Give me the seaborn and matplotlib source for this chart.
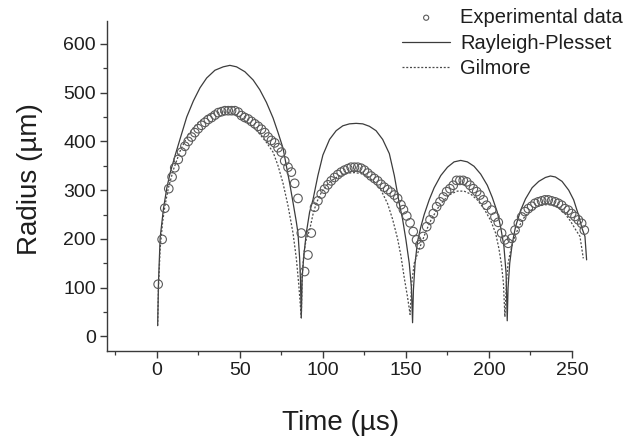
import matplotlib
matplotlib.use("Agg")
import matplotlib.pyplot as plt
import seaborn as sns
from matplotlib.ticker import MultipleLocator

# ---------------- data ----------------
exp_time = [0.8, 3.2, 4.8, 7.2, 9.2, 10.8, 12.9, 14.9, 16.9, 18.9, 20.9, 22.9, 24.9, 26.9,
            29, 31, 33, 35, 37, 39, 41, 43, 45, 47, 49, 51, 53, 55, 57, 59, 61, 63, 65, 67,
            69, 71, 73, 75, 77, 79, 81, 83, 85, 87, 89, 91, 93,
            95, 97, 99, 101, 103, 105, 107, 109, 111, 113, 115, 117, 119, 121, 123, 125,
            127, 129, 131, 133, 135, 137, 139, 141, 143, 145, 147, 148.5, 150.5, 152.5,
            154.4, 156.4, 158.4,
            160.4, 162.5, 164.5, 166.5, 168.5, 170.5, 172.5, 174.5, 176.5, 178.5, 180.5,
            182.5, 184.5, 186.6, 188.6, 190.6, 192.6, 194.6, 196.6, 198.6, 201.6, 203.6,
            205.6, 207.6, 209.6, 211.6,
            213.7, 215.7, 217.7, 219.7, 221.7, 223.7, 225.7, 227.7, 229.7, 231.7, 233.7,
            235.7, 237.7, 239.8, 241.8, 243.8, 245.8, 247.8, 249.8, 251.8, 253.8, 255.8, 257.4]
exp_radius = [107, 199, 263, 303, 327, 346, 363, 378, 390, 400, 409, 418, 426, 433,
              439, 445, 449, 454, 459, 461, 463, 463, 463, 463, 460, 453, 449, 446, 441, 436,
              431, 425, 418, 409, 402, 397, 387, 378, 360, 347, 337, 314, 283, 212, 133, 167, 212,
              265, 278, 292, 302, 311, 319, 326, 332, 337, 341, 344, 347, 347, 347, 345, 341,
              335, 329, 324, 319, 312, 306, 301, 296, 290, 283, 270, 260, 247, 233,
              215, 198, 188,
              205, 225, 239, 252, 266, 276, 286, 297, 303, 310, 320,
              320, 320, 317, 310, 303, 297, 290, 280, 269, 259, 245,
              234, 212, 198, 191,
              201, 218, 232, 245, 256, 262, 267, 273, 276, 278, 280,
              280, 278, 276, 273, 269, 262, 259, 252, 246, 239, 232, 218]

rp_time = [0.5, 1, 2, 4, 6, 8, 11, 14, 18, 22, 26, 30, 35, 40, 44, 48, 53, 58, 62, 66, 70,
           73, 76, 78, 80, 82, 84, 85, 86, 86.5, 87,
           87.5, 88.5, 90, 92, 94, 97, 100, 104, 108, 112, 116, 120, 124, 128, 132, 136,
           140, 143, 146, 148, 150, 152, 153.3, 154,
           154.5, 155.5, 157, 159, 161, 164, 167, 171, 175, 179, 183, 187, 191, 195, 199,
           202, 205, 207, 209, 210.3, 211,
           211.5, 212.5, 214, 216, 219, 222, 226, 230, 234, 237, 240, 244, 248, 251, 254,
           256, 257.8, 258.8]
rp_radius = [22, 110, 202, 262, 304, 335, 371, 405, 450, 483, 510, 530, 546, 553, 556, 553,
             543, 526, 506, 480, 448, 418, 386, 350, 314, 275, 235, 212, 160, 115, 38,
             120, 165, 212, 255, 280, 330, 372, 404, 422, 432, 436, 437, 436, 431, 422, 404,
             375, 330, 273, 240, 198, 150, 100, 28,
             95, 150, 195, 225, 250, 280, 305, 330, 347, 358, 361, 358, 349, 333, 310,
             285, 255, 225, 185, 130, 32,
             100, 150, 190, 225, 258, 282, 305, 318, 326, 329, 327, 318, 300, 280, 248,
             222, 205, 157]

gil_time = [0.5, 1, 2, 3.5, 5, 7, 10, 14, 18, 22, 26, 30, 34, 38, 42, 46, 50, 54, 58, 62, 66,
            70, 73, 76, 79, 82, 84, 85.5, 86.5, 87,
            87.5, 88.5, 90, 92, 94, 96, 99, 103, 107, 111, 115, 119, 123, 127, 131, 135, 139,
            142, 145, 147, 149, 151, 152.5,
            153.5, 155, 157, 159, 162, 165, 169, 173, 177, 181, 185, 189, 193, 197, 201, 204,
            206, 207.5, 208.7, 209.6,
            210.5, 211.5, 213, 215, 218, 221, 225, 229, 233, 237, 241, 245, 249, 252, 254.8,
            256.8]
gil_radius = [22, 100, 180, 235, 270, 305, 342, 380, 408, 428, 442, 452, 458, 460, 460, 456,
              450, 440, 430, 415, 398, 378, 350, 314, 268, 212, 160, 105, 60, 38,
              120, 170, 200, 218, 250, 273, 295, 313, 324, 331, 335, 336, 334, 328, 317, 300,
              272, 240, 200, 165, 120, 80, 45,
              110, 150, 170, 188, 215, 238, 262, 280, 292, 298, 298, 292, 280, 262, 238, 212,
              180, 148, 110, 40,
              110, 150, 175, 200, 225, 243, 258, 266, 270, 270, 266, 255, 237, 220, 205, 160]

x_ticks = [0, 50, 100, 150, 200, 250]
y_ticks = [0, 100, 200, 300, 400, 500, 600]

# ---------------- figure ----------------
sns.set_style("ticks")
plt.rcParams['font.family'] = ['Liberation Sans', 'DejaVu Sans']
plt.rcParams['mathtext.fontset'] = 'dejavusans'

fig = plt.figure(figsize=(6.38, 4.38), dpi=100)
ax = fig.add_axes([107 / 638, 87 / 438, 465 / 638, 330 / 438])

text_c = "#1e1e1e"
axis_c = "#3a3a3a"

sns.scatterplot(x=exp_time, y=exp_radius, ax=ax, marker='o', s=38,
                facecolor='none', edgecolor='#5a5a5a', linewidth=0.8,
                label='Experimental data', clip_on=False, zorder=3)
sns.lineplot(x=rp_time, y=rp_radius, ax=ax, sort=False, estimator=None,
             color='#3c3c3c', linewidth=0.9, label='Rayleigh-Plesset', clip_on=False)
sns.lineplot(x=gil_time, y=gil_radius, ax=ax, sort=False, estimator=None,
             color='#4a4a4a', linewidth=0.9, linestyle=(0, (1.6, 1.4)),
             label='Gilmore', clip_on=False)

ax.set_xlim(-30, 250)
ax.set_ylim(-30, 647)
ax.set_xticks(x_ticks)
ax.set_yticks(y_ticks)
ax.xaxis.set_minor_locator(MultipleLocator(25))
ax.yaxis.set_minor_locator(MultipleLocator(50))

sns.despine(ax=ax)
for sp in ('left', 'bottom'):
    ax.spines[sp].set_color(axis_c)
    ax.spines[sp].set_linewidth(1.0)

ax.tick_params(which='major', direction='out', length=5, width=1.0, color=axis_c,
               labelsize=14, labelcolor=text_c, pad=3)
ax.tick_params(which='minor', direction='out', length=3, width=0.9, color=axis_c)

ax.set_xlabel("Time (µs)", fontsize=20, color=text_c)
ax.set_ylabel("Radius (µm)", fontsize=20, color=text_c)
ax.xaxis.set_label_coords(0.502, -0.178)
ax.yaxis.set_label_coords(-0.138, 0.52)

leg = ax.legend(loc='upper left', bbox_to_anchor=(402 / 638, 1 - 8 / 438),
                bbox_transform=fig.transFigure, frameon=False, fontsize=14.5,
                handlelength=2.4, handletextpad=0.5, labelspacing=0.33,
                borderpad=0, borderaxespad=0, markerscale=0.6)
for t in leg.get_texts():
    t.set_color(text_c)

fig.savefig("out.png", dpi=100, facecolor='white')
